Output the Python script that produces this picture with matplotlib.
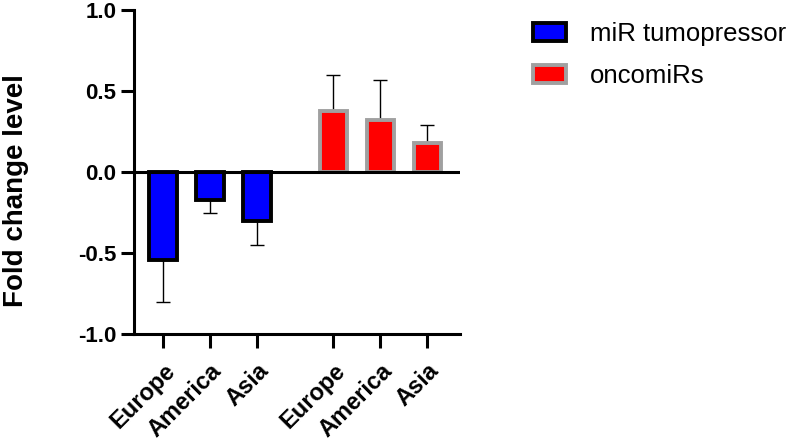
import numpy as np
import matplotlib.pyplot as plt

plt.rcParams['font.family'] = ['Liberation Sans', 'DejaVu Sans']

regions = ["Europe", "America", "Asia"]
tumo_vals = [-0.54, -0.17, -0.30]
tumo_err = [0.26, 0.08, 0.15]
onco_vals = [0.38, 0.32, 0.18]
onco_err = [0.22, 0.25, 0.11]

x_tumo = np.arange(3)
x_onco = np.arange(3) + 3.62

fig = plt.figure(figsize=(7.9, 4.43), dpi=100)
ax = fig.add_axes([0.1696, 0.246, 0.4127, 0.731])

w = 0.58
ax.errorbar(x_tumo, tumo_vals, yerr=[tumo_err, [0] * 3], fmt='none',
            ecolor='black', elinewidth=1.0, capsize=5, capthick=1.0, zorder=2)
ax.errorbar(x_onco, onco_vals, yerr=[[0] * 3, onco_err], fmt='none',
            ecolor='black', elinewidth=1.0, capsize=5, capthick=1.0, zorder=2)
ax.bar(x_tumo, tumo_vals, width=w, color='#0000ff', edgecolor='black',
       linewidth=2.8, label='miR tumopressor', zorder=3)
ax.bar(x_onco, onco_vals, width=w, color='#ff0000', edgecolor='#a0a0a0',
       linewidth=2.8, label='oncomiRs', zorder=3)

ax.axhline(0, color='black', linewidth=2.2, zorder=4)

ax.set_ylim(-1.0, 1.0)
ax.set_xlim(-0.62, 6.32)
ax.set_yticks([-1.0, -0.5, 0.0, 0.5, 1.0])
ax.set_yticklabels(['-1.0', '-0.5', '0.0', '0.5', '1.0'])
ax.set_xticks(list(x_tumo) + list(x_onco))
ax.set_xticklabels(regions + regions, rotation=45, ha='right',
                   rotation_mode='anchor')

for lab in ax.get_yticklabels():
    lab.set_fontsize(16)
    lab.set_fontweight('bold')
for lab in ax.get_xticklabels():
    lab.set_fontsize(17)
    lab.set_fontweight('bold')

ax.spines['top'].set_visible(False)
ax.spines['right'].set_visible(False)
ax.spines['left'].set_linewidth(2.2)
ax.spines['bottom'].set_linewidth(2.2)
ax.tick_params(axis='y', width=2.2, length=9.5, pad=3)
ax.tick_params(axis='x', width=2.2, length=10, pad=8)

ax.set_ylabel('Fold change level', fontsize=20, fontweight='bold')
ax.yaxis.set_label_coords(-0.322, 0.444)

ax.legend(loc='upper left', bbox_to_anchor=(533 / 790, 1 - 22 / 443),
          bbox_transform=fig.transFigure, frameon=False, fontsize=18.5,
          handlelength=1.3, handleheight=0.65, handletextpad=0.9,
          labelspacing=0.7, borderpad=0, borderaxespad=0)

plt.savefig('out.png', dpi=100)
